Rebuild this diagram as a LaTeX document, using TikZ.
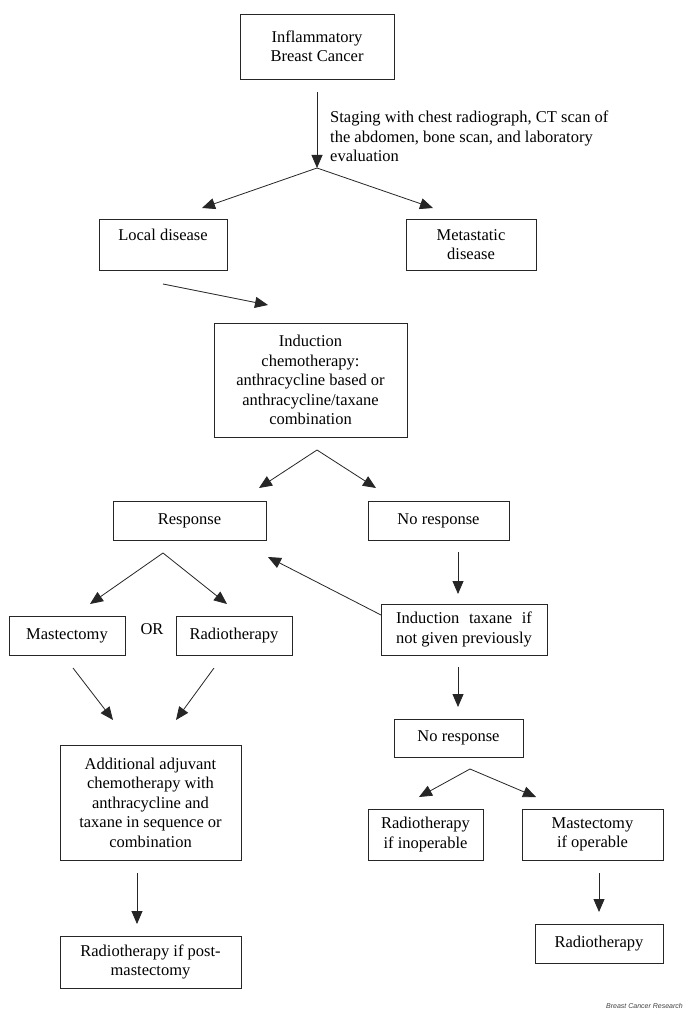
\documentclass[tikz,border=0pt]{standalone}
\usepackage{fontspec}
\setmainfont{Liberation Serif}
\newfontfamily\credfont{Liberation Sans}
\usepackage{calc}
\usetikzlibrary{arrows.meta}
\begin{document}
\begin{tikzpicture}[x=1pt,y=-1pt,
  box/.style={draw=black!85, line width=0.8pt, rectangle, align=center, inner sep=0pt,
    font=\fontsize{16.5}{19.5}\selectfont},
  conn/.style={draw=black!85, line width=0.8pt, -{Triangle[length=13pt,width=11pt]}},
  lbl/.style={font=\fontsize{16.5}{19.5}\selectfont, inner sep=0pt, align=left}
]
\useasboundingbox[fill=white] (0,0) rectangle (685,1011);

% boxes
\node[box, minimum width=154pt, minimum height=65pt] (ibc) at (317,46.5) {Inflammatory\\Breast Cancer};
\node[box, minimum width=128pt, minimum height=51pt] (local) at (163,244.5) {Local disease\\\mbox{}};
\node[box, minimum width=130pt, minimum height=51pt] (meta) at (471,244.5) {Metastatic\\disease};
\node[box, minimum width=193pt, minimum height=114pt] (induct) at (310.5,380) {Induction\\chemotherapy:\\anthracycline based or\\anthracycline/taxane\\combination};
\node[box, minimum width=153pt, minimum height=39pt] (resp) at (189.5,520.5) {Response};
\node[box, minimum width=141pt, minimum height=39pt] (noresp) at (438.5,520.5) {No response};
\node[box, minimum width=116pt, minimum height=39pt] (mast) at (67,635.5) {Mastectomy};
\node[box, minimum width=116pt, minimum height=39pt] (radio) at (234,635.5) {Radiotherapy};
\node[lbl] (or) at (152,629) {OR};
\node[box, minimum width=166pt, minimum height=51pt] (taxane) at (464,629.5)
  {\makebox[\widthof{not given previously}][s]{Induction\hfill taxane\hfill if}\\not given previously};
\node[box, minimum width=181pt, minimum height=115pt] (addl) at (150.5,802.5) {Additional adjuvant\\chemotherapy with\\anthracycline and\\taxane in sequence or\\combination};
\node[box, minimum width=181pt, minimum height=52pt] (rpm) at (150.5,962) {Radiotherapy if post-\\mastectomy};
\node[box, minimum width=129pt, minimum height=38pt] (noresp2) at (458.5,738) {No response};
\node[box, minimum width=115pt, minimum height=51pt] (rinop) at (425.5,834.5) {Radiotherapy\\if inoperable};
\node[box, minimum width=141pt, minimum height=51pt] (mop) at (592.5,834.5) {Mastectomy\\if operable};
\node[box, minimum width=128pt, minimum height=39pt] (radio2) at (599,943.5) {Radiotherapy};

% staging label
\node[lbl, anchor=north west] (staging) at (330,111) {Staging with chest radiograph, CT scan of\\the abdomen, bone scan, and laboratory\\evaluation};

% credit
\node[anchor=south east, inner sep=0pt, font=\credfont\itshape\fontsize{7}{8}\selectfont, text=black!75] (credit) at (683,1009) {Breast Cancer Research};

% connector points
\coordinate (s0) at (317,92);
\coordinate (b1) at (317,168);
\coordinate (t1l) at (202,208);
\coordinate (t1r) at (433,208);
\coordinate (l0) at (163,284);
\coordinate (l1) at (268,305);
\coordinate (b2) at (317,450);
\coordinate (t2l) at (259,488);
\coordinate (t2r) at (376,488);
\coordinate (b3) at (163,553);
\coordinate (t3l) at (90,604);
\coordinate (t3r) at (227,604);
\coordinate (n0) at (458,552);
\coordinate (n1) at (458,594);
\coordinate (x0) at (381,615);
\coordinate (x1) at (268,557);
\coordinate (m0) at (73,668);
\coordinate (m1) at (113,720);
\coordinate (r0) at (214,668);
\coordinate (r1) at (176,720);
\coordinate (a0) at (137,873);
\coordinate (a1) at (137,924);
\coordinate (q0) at (458,667);
\coordinate (q1) at (458,707);
\coordinate (b4) at (470,769);
\coordinate (t4l) at (419,797);
\coordinate (t4r) at (536,797);
\coordinate (o0) at (599,873);
\coordinate (o1) at (599,912);

% connectors
\draw[conn] (s0) -- (b1);
\draw[conn] (b1) -- (t1l);
\draw[conn] (b1) -- (t1r);
\draw[conn] (l0) -- (l1);
\draw[conn] (b2) -- (t2l);
\draw[conn] (b2) -- (t2r);
\draw[conn] (b3) -- (t3l);
\draw[conn] (b3) -- (t3r);
\draw[conn] (n0) -- (n1);
\draw[conn] (x0) -- (x1);
\draw[conn] (m0) -- (m1);
\draw[conn] (r0) -- (r1);
\draw[conn] (a0) -- (a1);
\draw[conn] (q0) -- (q1);
\draw[conn] (b4) -- (t4l);
\draw[conn] (b4) -- (t4r);
\draw[conn] (o0) -- (o1);
\end{tikzpicture}
\end{document}
